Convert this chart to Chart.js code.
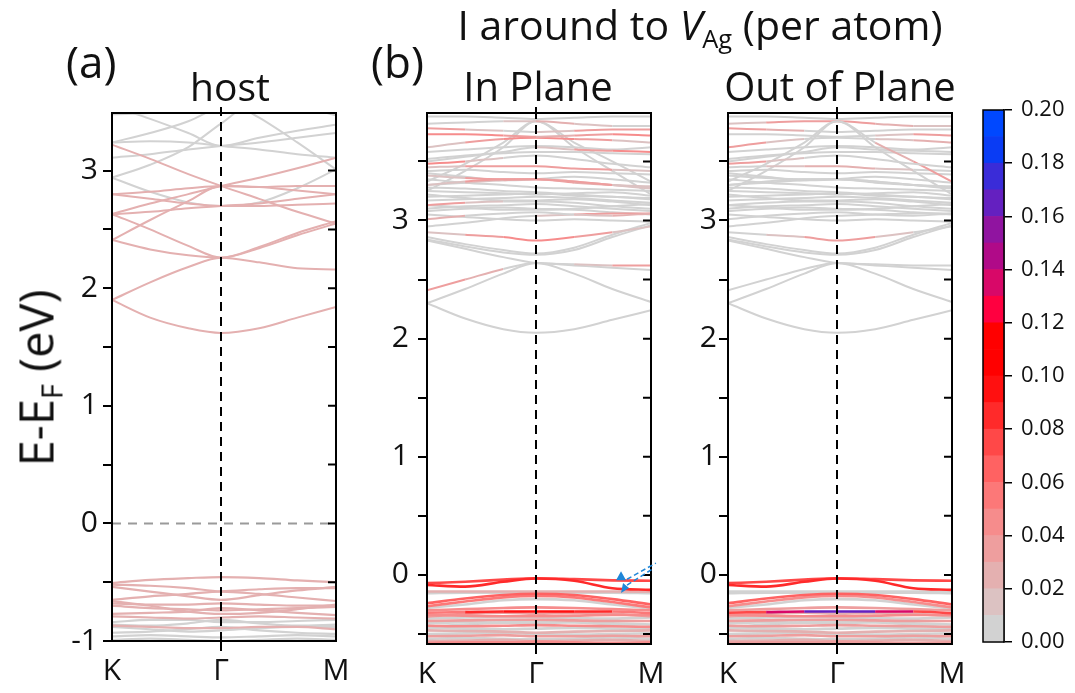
<!DOCTYPE html>
<html><head><meta charset="utf-8">
<script src="https://cdn.jsdelivr.net/npm/chart.js@4/dist/chart.umd.min.js"></script>
<style>
html,body{margin:0;padding:0;background:#fff;}
#wrap{position:relative;width:1075px;height:693px;overflow:hidden;font-family:"Open Sans",sans-serif;color:#111;}
canvas{position:absolute;left:0;top:0;}
.t{position:absolute;white-space:nowrap;line-height:1;}
.c{transform:translateX(-50%);}
sub{font-size:62%;vertical-align:baseline;position:relative;top:0.32em;}
</style></head><body>
<div id="wrap">
<canvas id="cA" width="1075" height="693"></canvas>
<canvas id="cB" width="1075" height="693"></canvas>
<canvas id="cC" width="1075" height="693"></canvas>
<canvas id="cBar" width="1075" height="693"></canvas>
<div class="t" style="left:66px;top:39px;font-size:44px">(a)</div>
<div class="t" style="left:371px;top:39px;font-size:44px">(b)</div>
<div class="t c" style="left:230px;top:66px;font-size:39px">host</div>
<div class="t c" style="left:538px;top:66px;font-size:40px">In Plane</div>
<div class="t c" style="left:840px;top:66px;font-size:40px">Out of Plane</div>
<div class="t c" style="left:700px;top:4px;font-size:41px">I around to <i>V</i><sub>Ag</sub> (per atom)</div>
<div class="t" style="left:36px;top:378px;font-size:47px;transform:translate(-50%,-50%) rotate(-90deg);">E-E<sub>F</sub> (eV)</div>
</div>
<script>
// ---------- data ----------
const kPoints = [0, 0.35, 0.7, 1, 1.35, 1.7, 2.055];
const kTickPos = [0, 1, 2.055];
const kTickLabels = ['K', 'Γ', 'M'];
const hostRange = [-1, 3.49];
const defectRange = [-0.585, 3.91];
const hostYTicks = [-1, -0.5, 0, 0.5, 1, 1.5, 2, 2.5, 3];
const defectYTicks = [-0.5, 0, 0.5, 1, 1.5, 2, 2.5, 3, 3.5];
const cbarTicks = [0, 0.02, 0.04, 0.06, 0.08, 0.10, 0.12, 0.14, 0.16, 0.18, 0.20];
const cbarStep = 0.01;
const cbarColors = ['#d2d2d2','#dcc2c2','#e4b0b0','#ee9e9e','#f68c8c','#fc7878','#ff6262','#ff4848',
  '#ff2a2a','#ff1010','#ff0000','#ff0000','#ff0040','#d80868','#b00a88','#9014a0','#6420c0','#3a2cd8','#0a3cf4','#0048ff'];

// host (panel a) band energies at kPoints, and one weight per band
const hostBands = [
  [1.90,1.75,1.66,1.62,1.66,1.75,1.84],
  [1.90,2.05,2.18,2.26,2.22,2.17,2.16],
  [2.41,2.33,2.28,2.26,2.35,2.47,2.57],
  [2.63,2.50,2.36,2.26,2.34,2.45,2.55],
  [2.41,2.58,2.74,2.87,2.86,2.83,2.80],
  [2.63,2.72,2.80,2.87,2.94,3.02,3.11],
  [3.22,3.10,2.97,2.87,2.76,2.65,2.55],
  [2.80,2.82,2.85,2.87,2.86,2.87,2.87],
  [2.80,2.76,2.72,2.70,2.70,2.71,2.72],
  [2.63,2.65,2.68,2.70,2.72,2.76,2.80],
  [3.24,3.32,3.42,3.55,3.62,3.62,3.62],
  [3.55,3.44,3.32,3.21,3.28,3.34,3.39],
  [3.24,3.25,3.24,3.21,3.18,3.14,3.11],
  [2.94,2.82,2.73,2.70,2.73,2.85,3.01],
  [3.70,3.70,3.66,3.62,3.45,3.24,3.01],
  [3.48,3.49,3.53,3.60,3.60,3.55,3.47],
  [3.11,3.14,3.18,3.21,3.24,3.28,3.32],
  [2.94,3.05,3.20,3.40,3.60,3.60,3.60],
  [-0.507,-0.480,-0.465,-0.456,-0.465,-0.485,-0.500],
  [-0.520,-0.530,-0.550,-0.577,-0.560,-0.550,-0.550],
  [-0.540,-0.580,-0.620,-0.650,-0.610,-0.570,-0.540],
  [-0.650,-0.620,-0.600,-0.580,-0.600,-0.630,-0.660],
  [-0.680,-0.690,-0.690,-0.680,-0.690,-0.700,-0.700],
  [-0.700,-0.720,-0.730,-0.740,-0.730,-0.720,-0.710],
  [-0.660,-0.700,-0.750,-0.770,-0.760,-0.730,-0.690],
  [-0.770,-0.760,-0.750,-0.720,-0.740,-0.760,-0.780],
  [-0.790,-0.800,-0.810,-0.800,-0.790,-0.800,-0.810],
  [-0.840,-0.820,-0.820,-0.840,-0.840,-0.830,-0.820],
  [-0.860,-0.870,-0.850,-0.820,-0.850,-0.870,-0.860],
  [-0.870,-0.880,-0.890,-0.890,-0.880,-0.880,-0.900],
  [-0.880,-0.900,-0.920,-0.910,-0.890,-0.880,-0.880],
  [-0.930,-0.920,-0.900,-0.880,-0.910,-0.930,-0.940],
  [-0.960,-0.950,-0.960,-0.970,-0.960,-0.950,-0.960],
  [-0.990,-0.980,-0.990,-1.000,-0.990,-0.980,-0.990]
];
const hostWeights = [0.022,0.022,0.022,0.022,0.022,0.022,0.022,0.022,0.022,0.022,
  0,0,0,0,0,0,0,0,
  0.022,0.022,0.022,0.022,0.022,0.022,0.022,0.022,0.022,0,0,0.022,0,0,0,0];

// V_Ag defect supercell bands (panels b and c share energies)
const defectBands = [
  [2.30,2.17,2.08,2.05,2.08,2.16,2.24],
  [2.30,2.42,2.55,2.64,2.55,2.42,2.31],
  [2.41,2.50,2.59,2.64,2.62,2.60,2.58],
  [2.83,2.76,2.69,2.64,2.63,2.62,2.62],
  [2.84,2.78,2.73,2.71,2.75,2.86,2.96],
  [2.86,2.80,2.75,2.72,2.77,2.88,2.98],
  [2.90,2.88,2.86,2.83,2.86,2.90,2.95],
  [3.05,3.03,3.01,3.00,3.01,3.00,2.99],
  [3.01,3.04,3.06,3.07,3.05,3.04,3.06],
  [3.10,3.12,3.13,3.14,3.12,3.10,3.08],
  [3.13,3.15,3.16,3.16,3.15,3.12,3.10],
  [3.17,3.18,3.19,3.20,3.19,3.17,3.15],
  [3.20,3.21,3.22,3.23,3.21,3.20,3.18],
  [3.25,3.24,3.23,3.22,3.23,3.24,3.21],
  [3.28,3.27,3.25,3.24,3.22,3.20,3.19],
  [3.35,3.32,3.30,3.28,3.27,3.26,3.25],
  [3.38,3.36,3.35,3.35,3.33,3.30,3.27],
  [3.40,3.37,3.34,3.35,3.37,3.35,3.32],
  [3.30,3.32,3.34,3.35,3.32,3.30,3.29],
  [3.45,3.46,3.46,3.46,3.44,3.43,3.42],
  [3.48,3.50,3.53,3.55,3.52,3.48,3.45],
  [3.52,3.55,3.57,3.58,3.58,3.57,3.56],
  [3.50,3.54,3.58,3.62,3.60,3.59,3.58],
  [3.62,3.66,3.69,3.70,3.69,3.68,3.66],
  [3.73,3.73,3.72,3.71,3.72,3.73,3.72],
  [3.25,3.42,3.62,3.84,3.62,3.42,3.22],
  [3.33,3.48,3.66,3.84,3.66,3.50,3.33],
  [3.88,3.88,3.87,3.86,3.87,3.88,3.88],
  [3.82,3.83,3.84,3.84,3.82,3.80,3.80],
  [3.78,3.77,3.76,3.75,3.76,3.77,3.77],
  [2.95,2.98,3.02,3.04,3.05,3.06,3.06],
  [3.30,3.33,3.35,3.35,3.33,3.30,3.28],
  [3.08,3.10,3.11,3.10,3.09,3.07,3.05],
  [3.13,3.11,3.09,3.09,3.10,3.12,3.14],
  [3.22,3.19,3.17,3.17,3.18,3.16,3.13],
  [3.58,3.60,3.62,3.63,3.62,3.60,3.62],
  [3.42,3.43,3.41,3.40,3.41,3.40,3.39],
  [-0.070,-0.058,-0.040,-0.028,-0.036,-0.046,-0.050],
  [-0.085,-0.099,-0.058,-0.031,-0.050,-0.113,-0.127],
  [-0.141,-0.141,-0.140,-0.140,-0.140,-0.141,-0.142],
  [-0.155,-0.150,-0.152,-0.155,-0.152,-0.150,-0.155],
  [-0.240,-0.200,-0.170,-0.160,-0.170,-0.205,-0.250],
  [-0.265,-0.225,-0.190,-0.178,-0.190,-0.230,-0.275],
  [-0.280,-0.250,-0.215,-0.205,-0.215,-0.250,-0.285],
  [-0.320,-0.315,-0.310,-0.310,-0.310,-0.310,-0.325],
  [-0.340,-0.345,-0.350,-0.350,-0.345,-0.340,-0.340],
  [-0.370,-0.360,-0.355,-0.360,-0.365,-0.370,-0.360],
  [-0.390,-0.385,-0.380,-0.380,-0.385,-0.390,-0.390],
  [-0.410,-0.400,-0.405,-0.410,-0.400,-0.410,-0.420],
  [-0.430,-0.435,-0.430,-0.425,-0.430,-0.435,-0.440],
  [-0.450,-0.455,-0.460,-0.455,-0.450,-0.455,-0.460],
  [-0.470,-0.475,-0.480,-0.490,-0.480,-0.475,-0.470],
  [-0.500,-0.495,-0.490,-0.500,-0.505,-0.500,-0.495],
  [-0.520,-0.515,-0.510,-0.520,-0.520,-0.515,-0.520],
  [-0.540,-0.535,-0.540,-0.545,-0.540,-0.530,-0.540],
  [-0.560,-0.555,-0.550,-0.560,-0.555,-0.550,-0.560],
  [-0.575,-0.570,-0.570,-0.565,-0.570,-0.575,-0.570],
  [-0.440,-0.420,-0.400,-0.390,-0.400,-0.420,-0.450],
  [-0.300,-0.290,-0.280,-0.275,-0.280,-0.290,-0.300],
  [-0.355,-0.330,-0.320,-0.330,-0.320,-0.330,-0.350]
];
// weights: a number (whole band) or one value per k point
const inPlaneWeights = [
  0, 0, [.03,.03,.01,0,0,0,0], [0,0,0,0,0,.035,.035], 0, 0,
  [0,.025,.04,.045,.04,.02,0], 0, [.035,.015,0,0,0,.02,.03], 0, [.035,.025,0,0,0,0,0],
  0, 0, 0, 0, 0, [0,.025,.035,.03,.025,.02,0], 0, [0,0,.02,.03,.03,.02,0],
  [0,.025,.035,.04,.035,.025,.01], [.055,.035,0,0,0,0,0], 0, [0,0,0,0,.025,.04,.045],
  [0,.025,.035,.045,.035,.025,0], [.045,.045,.035,.025,.025,.035,.05], 0, 0, 0,
  [0,0,0,.03,.02,0,0], [.035,.025,0,0,.025,.035,.035], [0,0,0,0,.025,.035,.035],
  [0,.035,.04,.035,.04,.035,0], 0, 0, 0, 0, 0,
  .075, .08, .02, 0, .06, .05, 0, [.04,.07,.095,.10,.095,.075,.04],
  .045, 0, .035, 0, .04, 0, .025, 0, .035, 0, .025, .04, 0, .04, .03
];
const outPlaneWeights = [
  0, 0, 0, 0, 0, 0,
  [0,.005,.03,.035,.03,.005,0], 0, 0, 0, 0,
  0, 0, 0, 0, 0, 0, 0, 0,
  [0,0,.02,.03,.02,0,0], [.035,.035,0,0,0,0,0], 0, 0,
  [.03,.03,0,0,0,.02,.03], [0,0,0,0,0,.03,.04], 0, [0,0,0,0,.01,.03,.035], 0,
  [0,.03,.035,.035,.03,.02,0], [.035,.03,.01,0,0,0,0], 0,
  0, 0, 0, 0, 0, 0,
  .075, .085, .005, 0, .06, .045, 0, [.04,.10,.16,.17,.16,.11,.04],
  .04, 0, .03, 0, .035, 0, .02, 0, .03, 0, .02, .035, 0, .035, .025
];
const arrowK = [1.78, 1.78, 2.10];
const arrowE = [-0.02, -0.12, 0.10];

// ---------- helpers ----------
Chart.defaults.font.family = '"Open Sans", sans-serif';
Chart.defaults.color = '#111';

function colorFor(w) {
  let i = Math.floor(w / cbarStep + 1e-9);
  if (i < 0) i = 0;
  if (i > cbarColors.length - 1) i = cbarColors.length - 1;
  return cbarColors[i];
}
function expand(w) { return Array.isArray(w) ? w : kPoints.map(() => w); }

function bandSets(bands, weights, lowWidth) {
  return bands.map((e, bi) => {
    const w = expand(weights[bi]);
    const maxW = Math.max(...w);
    return {
      data: e.map((v, i) => ({ x: kPoints[i], y: v })),
      borderColor: colorFor(w[0]),
      borderWidth: e[0] < 0 ? lowWidth : 2,
      pointRadius: 0,
      cubicInterpolationMode: 'monotone',
      order: -Math.round(maxW * 10000),
      segment: { borderColor: ctx => colorFor((w[ctx.p0DataIndex] + w[ctx.p1DataIndex]) / 2) }
    };
  });
}

const framePlugin = {
  id: 'frame',
  afterDatasetsDraw(chart, args, opts) {
    if (!opts || !opts.on) return;
    const { ctx, chartArea: a, scales } = chart;
    ctx.save();
    ctx.strokeStyle = '#000';
    ctx.lineWidth = 2;
    ctx.strokeRect(a.left, a.top, a.right - a.left, a.bottom - a.top);
    ctx.beginPath();
    scales.y.ticks.forEach(t => {
      const y = scales.y.getPixelForValue(t.value);
      ctx.moveTo(a.right, y); ctx.lineTo(a.right - 8, y);
    });
    const gx = scales.x.getPixelForValue(kTickPos[1]);
    ctx.moveTo(gx, a.top); ctx.lineTo(gx, a.top - 6);
    ctx.stroke();
    if (opts.arrow) {
      const p = arrowK.map((k, i) => ({ x: scales.x.getPixelForValue(k), y: scales.y.getPixelForValue(arrowE[i]) }));
      ctx.fillStyle = '#1f86d8';
      ctx.strokeStyle = '#1f86d8';
      ctx.lineWidth = 1.5;
      ctx.setLineDash([5, 3]);
      ctx.beginPath();
      ctx.moveTo(p[0].x + 6, p[0].y + 2); ctx.lineTo(p[2].x, p[2].y);
      ctx.moveTo(p[1].x + 6, p[1].y - 4); ctx.lineTo(p[2].x - 2, p[2].y + 5);
      ctx.stroke();
      ctx.setLineDash([]);
      ctx.beginPath();
      ctx.moveTo(p[0].x, p[0].y - 6); ctx.lineTo(p[0].x - 5, p[0].y + 3); ctx.lineTo(p[0].x + 5, p[0].y + 3); ctx.closePath();
      ctx.moveTo(p[1].x, p[1].y + 4); ctx.lineTo(p[1].x + 2, p[1].y - 6); ctx.lineTo(p[1].x + 8, p[1].y - 1); ctx.closePath();
      ctx.fill();
    }
    ctx.restore();
  }
};

function bandChart(id, bands, weights, range, yTicks, box, labelPad, withZero, withArrow, lowWidth) {
  const ds = bandSets(bands, weights, lowWidth);
  ds.push({
    data: [{ x: kTickPos[1], y: range[0] }, { x: kTickPos[1], y: range[1] }],
    borderColor: '#000', borderWidth: 2, borderDash: [9, 6], pointRadius: 0, order: -1000000
  });
  if (withZero) {
    ds.push({
      data: [{ x: kTickPos[0], y: 0 }, { x: kTickPos[2], y: 0 }],
      borderColor: '#9a9a9a', borderWidth: 2, borderDash: [9, 7], pointRadius: 0, order: -999999
    });
  }
  return new Chart(document.getElementById(id), {
    type: 'line',
    data: { datasets: ds },
    plugins: [framePlugin],
    options: {
      responsive: false, animation: false, events: [],
      layout: { padding: { left: box.L - 60, right: 1075 - box.R, top: box.T, bottom: 693 - box.B - 45 } },
      plugins: { legend: { display: false }, tooltip: { enabled: false }, frame: { on: true, arrow: withArrow } },
      scales: {
        x: {
          type: 'linear', min: kTickPos[0], max: kTickPos[2],
          afterBuildTicks: s => { s.ticks = kTickPos.map(v => ({ value: v })); },
          afterFit: s => { s.height = 45; },
          ticks: { callback: (v, i) => kTickLabels[i], font: { size: 30 }, color: '#111', padding: 2, maxRotation: 0, autoSkip: false },
          grid: { drawOnChartArea: false, tickLength: 10, lineWidth: 2, color: c => (c.index === 1 ? '#000' : 'rgba(0,0,0,0)') },
          border: { display: true, color: '#000', width: 2 }
        },
        y: {
          type: 'linear', min: range[0], max: range[1],
          afterBuildTicks: s => { s.ticks = yTicks.map(v => ({ value: v })); },
          afterFit: s => { s.width = 60; },
          ticks: { callback: v => (Number.isInteger(v) ? String(v) : ''), font: { size: 30 }, color: '#111', padding: labelPad, autoSkip: false },
          grid: { drawOnChartArea: false, tickLength: 9, lineWidth: 2, color: '#000' },
          border: { display: true, color: '#000', width: 2 }
        }
      }
    }
  });
}

bandChart('cA', hostBands, hostWeights, hostRange, hostYTicks, { L: 112, R: 336, T: 113, B: 641 }, 5, true, false, 2.2);
bandChart('cB', defectBands, inPlaneWeights, defectRange, defectYTicks, { L: 427, R: 651, T: 113, B: 644 }, 9, false, true, 2.6);
bandChart('cC', defectBands, outPlaneWeights, defectRange, defectYTicks, { L: 728, R: 952, T: 113, B: 644 }, 2, false, false, 2.6);

// colorbar as stacked bar
const barSets = cbarColors.map(c => ({ data: [cbarStep], backgroundColor: c, borderWidth: 0, barPercentage: 1, categoryPercentage: 1, stack: 's' }));
const cbarBorder = {
  id: 'cbarBorder',
  afterDatasetsDraw(chart) {
    const { ctx, chartArea: a } = chart;
    ctx.save(); ctx.strokeStyle = '#000'; ctx.lineWidth = 1.5;
    ctx.strokeRect(a.left, a.top, a.right - a.left, a.bottom - a.top);
    ctx.restore();
  }
};
new Chart(document.getElementById('cBar'), {
  type: 'bar',
  data: { labels: [''], datasets: barSets },
  plugins: [cbarBorder],
  options: {
    responsive: false, animation: false, events: [],
    layout: { padding: { left: 983, right: 0, top: 110, bottom: 51 } },
    plugins: { legend: { display: false }, tooltip: { enabled: false } },
    scales: {
      x: { stacked: true, display: false },
      y: {
        stacked: true, position: 'right', min: 0, max: 0.2,
        afterBuildTicks: s => { s.ticks = cbarTicks.map(v => ({ value: v })); },
        afterFit: s => { s.width = 71; },
        ticks: { callback: v => v.toFixed(2), font: { size: 22 }, color: '#111', padding: 9 },
        grid: { drawOnChartArea: false, tickLength: 8, lineWidth: 1.5, color: '#000' },
        border: { display: true, color: '#000', width: 1.5 }
      }
    }
  }
});
</script>
</body></html>
